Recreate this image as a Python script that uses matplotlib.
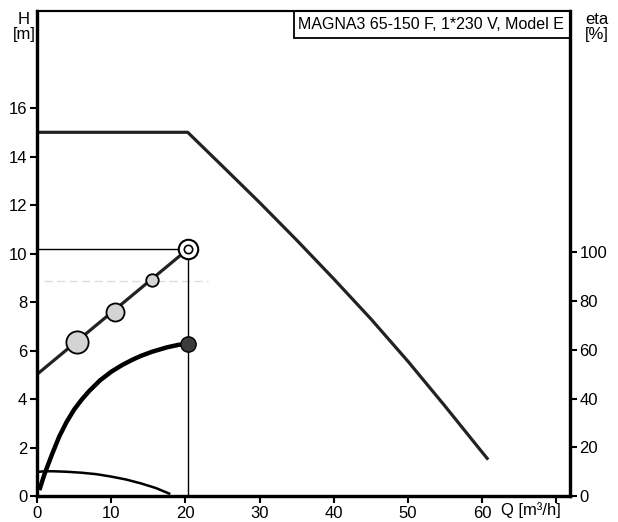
import matplotlib.pyplot as plt
from matplotlib.patches import Rectangle

plt.rcParams['font.family'] = ['Liberation Sans', 'DejaVu Sans']

# QH curve
q_qh = [0, 20.3, 25, 30, 35, 40, 45, 50, 55, 60, 60.8]
h_qh = [15.0, 15.0, 13.6, 12.1, 10.55, 8.95, 7.3, 5.55, 3.7, 1.8, 1.5]

# straight curve with markers
q_line = [0.2, 20.4]
h_line = [5.07, 10.2]
q_marks = [5.4, 10.5, 15.5]
h_marks = [6.35, 7.6, 8.9]
mark_sizes = [16, 13, 9]

# efficiency curve [%]
q_eta = [0.4, 1, 2, 3, 4, 5, 6, 7, 8.5, 10, 11.5, 12.9, 14, 15.5, 17.5, 19, 20.4]
eta = [3.3, 9, 17, 24.5, 30.5, 35.5, 39.5, 43, 47.5, 51, 53.8, 56, 57.5, 59.2, 61, 62, 62.5]

# NPSH-like curve
q_npsh = [0.3, 1, 2.2, 4, 6, 8, 10, 12, 14, 16, 17.8]
h_npsh = [1.0, 1.02, 1.02, 1.0, 0.96, 0.9, 0.8, 0.68, 0.52, 0.33, 0.1]

# duty point
q_duty = 20.3
h_duty = 10.2

x_ticks = [0, 10, 20, 30, 40, 50, 60, 70]
x_labels = ["0", "10", "20", "30", "40", "50", "60", ""]
y_ticks = [0, 2, 4, 6, 8, 10, 12, 14, 16]
eta_ticks = [0, 20, 40, 60, 80, 100]

fig = plt.figure(figsize=(6.18, 5.22), dpi=100)
ax = fig.add_axes([0.06, 0.0498, 0.862, 0.929])
ax2 = ax.twinx()

ax.set_xlim(0, 71.8)
ax.set_ylim(0, 20)
ax2.set_ylim(0, 199)

# faint scan line
ax.plot([1, 23], [8.85, 8.85], color='#dddddd', lw=1, ls=(0, (6, 3)))

ax.plot(q_qh, h_qh, color='#222222', lw=2.3, solid_capstyle='butt')
ax.plot([0, q_duty], [h_duty, h_duty], color='black', lw=1)
ax.plot([q_duty, q_duty], [0, h_duty], color='black', lw=1)
ax.plot(q_line, h_line, color='#222222', lw=2.3)
for q, h, s in zip(q_marks, h_marks, mark_sizes):
    ax.plot(q, h, 'o', ms=s, mfc='#d4d4d4', mec='black', mew=1.3)
ax.plot(q_line[-1], h_line[-1], 'o', ms=14, mfc='white', mec='black', mew=1.5)
ax.plot(q_line[-1], h_line[-1], 'o', ms=6, mfc='white', mec='black', mew=1.2)
ax.plot(q_npsh, h_npsh, color='black', lw=1.8)

ax2.plot(q_eta, eta, color='black', lw=3.2)
ax2.plot(q_eta[-1], eta[-1], 'o', ms=11, mfc='#3c3c3c', mec='black', mew=1)

ax.set_xticks(x_ticks)
ax.set_xticklabels(x_labels)
ax.set_yticks(y_ticks)
ax2.set_yticks(eta_ticks)
for a in (ax, ax2):
    a.tick_params(labelsize=12, length=5, width=1.5, direction='out', pad=2)
    for s in ('left', 'right', 'bottom'):
        a.spines[s].set_linewidth(2.3)
    a.spines['top'].set_linewidth(1.5)

box = Rectangle((0.482, 0.944), 0.518, 0.056, transform=ax.transAxes,
                facecolor='white', edgecolor='black', lw=1.3, zorder=5)
ax.add_patch(box)
ax.text(0.49, 0.972, "MAGNA3 65-150 F, 1*230 V, Model E", transform=ax.transAxes,
        fontsize=11.5, va='center', ha='left', zorder=6)

fig.text(24 / 618, 1 - 27 / 522, "H\n[m]", ha='center', va='center', fontsize=12, linespacing=0.95)
fig.text(597 / 618, 1 - 27 / 522, "eta\n[%]", ha='center', va='center', fontsize=12, linespacing=0.95)
fig.text(531 / 618, 1 - 510 / 522, "Q [m³/h]", ha='center', va='center', fontsize=12)

fig.savefig("out.png", dpi=100)
